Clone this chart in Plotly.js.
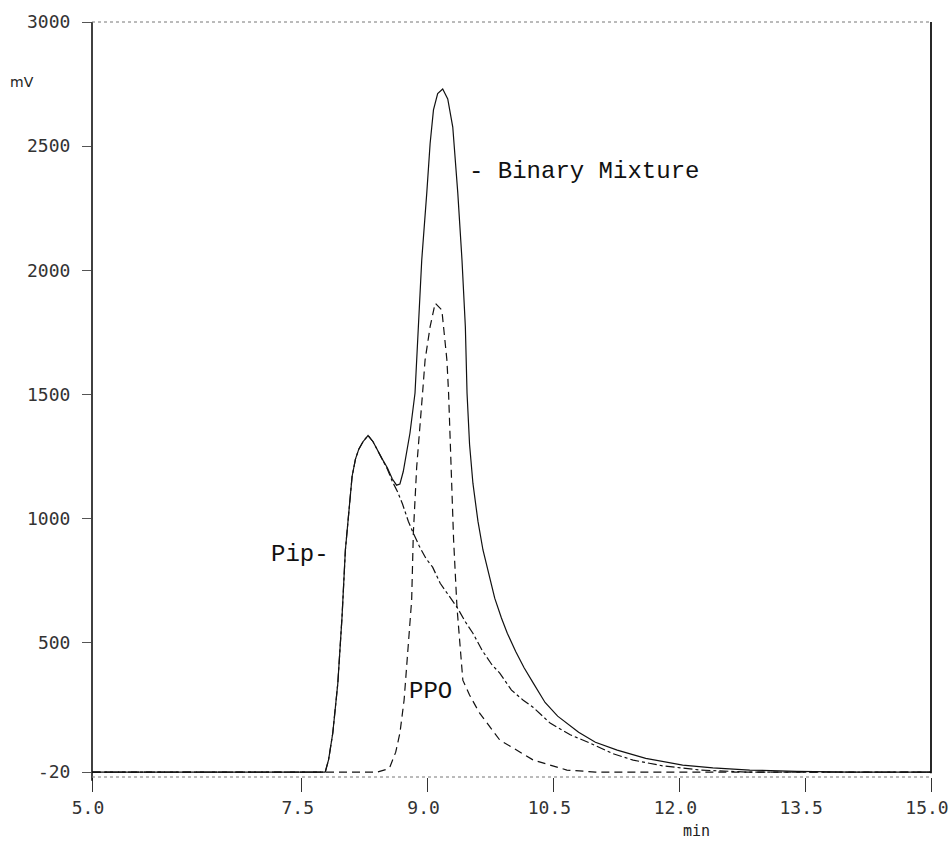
<!DOCTYPE html>
<html>
<head>
<meta charset="utf-8">
<script src="https://cdn.plot.ly/plotly-3.0.1.min.js"></script>
<style>html,body{margin:0;padding:0;background:#fff;}#chart{width:949px;height:841px;}</style>
</head>
<body>
<div id="chart"></div>
<script>
// Retention time (min) and detector signal (mV)
const binaryTime = [5.00, 7.78, 7.82, 7.87, 7.93, 7.98, 8.02, 8.06, 8.10, 8.14, 8.18, 8.23, 8.29, 8.35, 8.40, 8.46, 8.52, 8.58, 8.63, 8.67, 8.71, 8.75, 8.79, 8.85, 8.88, 8.93, 8.99, 9.03, 9.07, 9.12, 9.18, 9.24, 9.30, 9.36, 9.41, 9.45, 9.47, 9.50, 9.54, 9.60, 9.66, 9.71, 9.80, 9.88, 9.95, 10.05, 10.15, 10.26, 10.40, 10.55, 10.66, 10.80, 11.00, 11.26, 11.60, 12.04, 12.40, 12.84, 13.40, 14.03, 15.00];
const binaryMV   = [-20, -20, 30, 137, 338, 604, 874, 1040, 1170, 1240, 1280, 1310, 1335, 1310, 1276, 1240, 1205, 1160, 1135, 1140, 1190, 1265, 1345, 1506, 1700, 2041, 2311, 2511, 2646, 2712, 2730, 2690, 2577, 2311, 2041, 1772, 1506, 1300, 1143, 990, 874, 805, 680, 600, 539, 465, 400, 338, 260, 205, 177, 140, 100, 68, 35, 8, -3, -12, -17, -20, -20];

const pipTime = [5.00, 7.78, 7.82, 7.87, 7.93, 7.98, 8.02, 8.06, 8.10, 8.14, 8.18, 8.23, 8.29, 8.35, 8.40, 8.46, 8.52, 8.58, 8.64, 8.70, 8.77, 8.83, 8.90, 8.98, 9.06, 9.15, 9.25, 9.35, 9.45, 9.54, 9.65, 9.76, 9.86, 10.00, 10.14, 10.26, 10.46, 10.70, 10.94, 11.20, 11.45, 11.80, 12.25, 12.80, 15.00];
const pipMV   = [-20, -20, 30, 137, 338, 604, 874, 1040, 1170, 1240, 1280, 1310, 1335, 1310, 1276, 1240, 1200, 1150, 1110, 1060, 990, 942, 890, 840, 805, 740, 690, 644, 585, 539, 470, 415, 378, 310, 269, 240, 177, 130, 96, 55, 28, 5, -12, -20, -20];

const ppoTime = [5.00, 8.40, 8.50, 8.55, 8.62, 8.67, 8.72, 8.75, 8.78, 8.81, 8.83, 8.87, 8.94, 8.97, 9.03, 9.09, 9.17, 9.23, 9.25, 9.28, 9.31, 9.35, 9.38, 9.42, 9.50, 9.62, 9.86, 10.26, 10.66, 11.00, 15.00];
const ppoMV   = [-20, -20, -10, 0, 60, 137, 270, 402, 540, 672, 942, 1208, 1506, 1639, 1773, 1868, 1840, 1639, 1506, 1208, 914, 644, 500, 350, 290, 217, 109, 28, -12, -20, -20];

const xTickVals = [5.0, 7.5, 9.0, 10.5, 12.0, 13.5, 15.0];
const xTickText = ['5.0', '7.5', '9.0', '10.5', '12.0', '13.5', '15.0'];
const yTickVals = [-20, 500, 1000, 1500, 2000, 2500, 3000];
const yTickText = ['-20', '500', '1000', '1500', '2000', '2500', '3000'];

const tickFont = {family: 'DejaVu Sans Mono, monospace', size: 18, color: '#333'};
const labelFont = {family: 'Liberation Mono, Courier New, monospace', size: 24, color: '#111'};

const traces = [
  {x: binaryTime, y: binaryMV, mode: 'lines', name: 'Binary Mixture',
   line: {color: '#111', width: 1.2}},
  {x: pipTime, y: pipMV, mode: 'lines', name: 'Pip',
   line: {color: '#111', width: 1.2, dash: 'dashdot'}},
  {x: ppoTime, y: ppoMV, mode: 'lines', name: 'PPO',
   line: {color: '#111', width: 1.2, dash: '8px,5px'}}
];

const layout = {
  width: 949, height: 841,
  margin: {l: 92, r: 18, t: 22, b: 64},
  paper_bgcolor: '#fff', plot_bgcolor: '#fff',
  showlegend: false,
  xaxis: {
    range: [5, 15], showgrid: false, zeroline: false, showline: false,
    tickmode: 'array', tickvals: xTickVals, ticktext: xTickText,
    ticks: 'outside', ticklen: 14, tickwidth: 1, tickcolor: '#333',
    tickfont: tickFont, ticklabelshift: -4, ticklabelstandoff: 0
  },
  yaxis: {
    range: [-40, 3000], showgrid: false, zeroline: false, showline: false,
    tickmode: 'array', tickvals: yTickVals, ticktext: yTickText,
    ticks: 'outside', ticklen: 9, tickwidth: 1, tickcolor: '#555',
    tickfont: tickFont, ticklabelstandoff: 8
  },
  shapes: [
    {type: 'line', xref: 'paper', yref: 'paper', x0: 0, x1: 0, y0: -0.005, y1: 1, line: {color: '#111', width: 1.6}},
    {type: 'line', xref: 'paper', yref: 'paper', x0: 1, x1: 1, y0: 0.005, y1: 1, line: {color: '#111', width: 1.8}},
    {type: 'line', xref: 'paper', yref: 'paper', x0: 0, x1: 1, y0: 1, y1: 1, line: {color: '#777', width: 1, dash: 'dot'}},
    {type: 'line', xref: 'paper', yref: 'paper', x0: 0, x1: 1, y0: 0, y1: 0, line: {color: '#777', width: 1, dash: 'dot'}}
  ],
  annotations: [
    {text: '- Binary Mixture', xref: 'x', yref: 'y', x: 10.86, y: 2400, showarrow: false, xanchor: 'center', yanchor: 'middle', font: labelFont},
    {text: 'Pip-', xref: 'x', yref: 'y', x: 7.48, y: 854, showarrow: false, xanchor: 'center', yanchor: 'middle', font: labelFont},
    {text: 'PPO', xref: 'x', yref: 'y', x: 9.04, y: 303, showarrow: false, xanchor: 'center', yanchor: 'middle', font: labelFont},
    {text: 'mV', xref: 'paper', yref: 'paper', x: -0.0834, y: 0.9205, showarrow: false, xanchor: 'center', yanchor: 'middle', font: {family: 'DejaVu Sans, sans-serif', size: 14, color: '#222'}},
    {text: 'min', xref: 'paper', yref: 'paper', x: 0.721, y: -0.0715, showarrow: false, xanchor: 'center', yanchor: 'middle', font: {family: 'DejaVu Sans Mono, monospace', size: 15, color: '#222'}}
  ]
};

Plotly.newPlot('chart', traces, layout, {displayModeBar: false, staticPlot: true});
</script>
</body>
</html>
